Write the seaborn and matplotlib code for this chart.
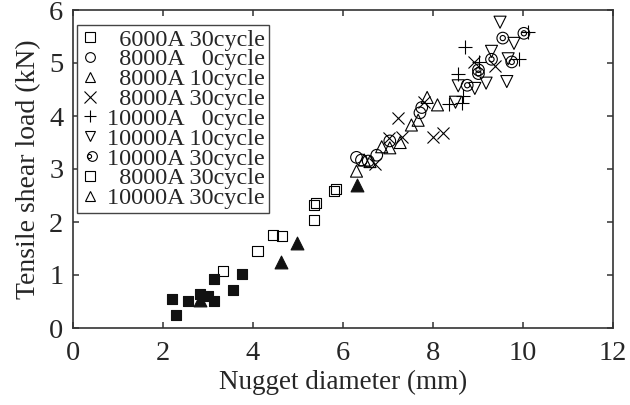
import matplotlib
matplotlib.use("Agg")
import matplotlib.pyplot as plt
import seaborn as sns
import numpy as np
from matplotlib.lines import Line2D
from matplotlib.legend_handler import HandlerTuple

# ---- data ----
sq6000_30_x = [3.34, 4.10, 4.45, 4.65, 5.36, 5.36, 5.40, 5.80, 5.84]
sq6000_30_y = [1.08, 1.45, 1.75, 1.74, 2.04, 2.32, 2.35, 2.58, 2.62]

c8000_0_x = [6.30, 6.41, 6.56, 6.75, 7.04, 7.71, 7.75]
c8000_0_y = [3.22, 3.17, 3.15, 3.26, 3.53, 4.06, 4.16]

t8000_10_x = [6.30, 6.47, 6.60, 6.86, 7.04, 7.27, 7.52, 7.67, 7.87, 8.10]
t8000_10_y = [2.96, 3.17, 3.14, 3.42, 3.40, 3.50, 3.83, 3.92, 4.35, 4.21]

x8000_30_x = [6.71, 7.02, 7.30, 7.22, 7.79, 8.01, 8.22, 8.91, 9.38]
x8000_30_y = [3.10, 3.58, 3.61, 3.97, 4.26, 3.60, 3.68, 5.02, 4.94]

p10000_0_x = [8.36, 8.64, 8.67, 8.56, 8.71, 9.03, 9.92, 10.12]
p10000_0_y = [4.22, 4.24, 4.37, 4.80, 5.30, 5.02, 5.07, 5.59]

v10000_10_x = [8.50, 8.56, 8.93, 9.18, 9.30, 9.64, 9.67, 9.80, 9.49]
v10000_10_y = [4.26, 4.57, 4.52, 4.62, 5.22, 4.65, 5.08, 5.37, 5.77]

cd10000_30_x = [8.76, 9.01, 9.01, 9.30, 9.75, 9.55, 10.02]
cd10000_30_y = [4.58, 4.87, 4.80, 5.07, 5.02, 5.47, 5.56]

fs8000_30_x = [2.19, 2.29, 2.56, 2.82, 3.01, 3.14, 3.14, 3.55, 3.75]
fs8000_30_y = [0.54, 0.24, 0.51, 0.65, 0.61, 0.51, 0.92, 0.72, 1.01]

ft10000_30_x = [2.82, 4.62, 4.98, 6.31]
ft10000_30_y = [0.52, 1.24, 1.61, 2.70]

labels = ["  6000A 30cycle", "  8000A   0cycle", "  8000A 10cycle", "  8000A 30cycle",
          "10000A   0cycle", "10000A 10cycle", "10000A 30cycle",
          "  8000A 30cycle", "10000A 30cycle"]

x_ticks = [0, 2, 4, 6, 8, 10, 12]
y_ticks = [0, 1, 2, 3, 4, 5, 6]

# ---- styling ----
sns.set_theme(style="white")
plt.rcParams["font.family"] = ["Liberation Serif", "DejaVu Serif"]

fig = plt.figure(figsize=(6.3, 4.05), dpi=100)
ax = fig.add_axes([73/630, 1-328/405, 540/630, 318/405])

K = "black"
lw = 0.8

sns.scatterplot(x=sq6000_30_x, y=sq6000_30_y, marker="s", s=52, color=K,
                facecolor="none", edgecolor=K, linewidth=lw, ax=ax, zorder=3)
sns.scatterplot(x=c8000_0_x, y=c8000_0_y, marker="o", s=70, color=K,
                facecolor="none", edgecolor=K, linewidth=lw, ax=ax, zorder=3)
sns.scatterplot(x=t8000_10_x, y=t8000_10_y, marker="^", s=75, color=K,
                facecolor="none", edgecolor=K, linewidth=lw, ax=ax, zorder=3)
sns.scatterplot(x=x8000_30_x, y=x8000_30_y, marker="x", s=75, color=K,
                linewidth=lw, ax=ax, zorder=3)
sns.scatterplot(x=p10000_0_x, y=p10000_0_y, marker="+", s=90, color=K,
                linewidth=lw, ax=ax, zorder=3)
sns.scatterplot(x=v10000_10_x, y=v10000_10_y, marker="v", s=75, color=K,
                facecolor="none", edgecolor=K, linewidth=lw, ax=ax, zorder=3)
sns.scatterplot(x=cd10000_30_x, y=cd10000_30_y, marker="o", s=70, color=K,
                facecolor="none", edgecolor=K, linewidth=lw, ax=ax, zorder=3)
sns.scatterplot(x=cd10000_30_x, y=cd10000_30_y, marker="o", s=14, color=K,
                facecolor="none", edgecolor=K, linewidth=lw, ax=ax, zorder=3)
sns.scatterplot(x=fs8000_30_x, y=fs8000_30_y, marker="s", s=60, color="#111111",
                edgecolor="#111111", linewidth=lw, ax=ax, zorder=3)
sns.scatterplot(x=ft10000_30_x, y=ft10000_30_y, marker="^", s=85, color="#111111",
                edgecolor="#111111", linewidth=lw, ax=ax, zorder=3)

ax.set_xlim(0, 12)
ax.set_ylim(0, 6)
ax.set_xticks(x_ticks)
ax.set_yticks(y_ticks)
ax.set_xticklabels([str(v) for v in x_ticks])
ax.set_yticklabels([str(v) for v in y_ticks])

ax.set_xlabel("Nugget diameter (mm)", fontsize=19.5, labelpad=3)
ax.set_ylabel("Tensile shear load (kN)", fontsize=20, labelpad=6)

for sp in ax.spines.values():
    sp.set_visible(True)
    sp.set_color("#333333")
    sp.set_linewidth(1.2)

ax.tick_params(axis="both", which="both", direction="in", length=4.5, width=1.1,
               color="#333333", top=True, right=True, bottom=True, left=True,
               labelsize=20.5)
ax.tick_params(axis="x", pad=9)
ax.tick_params(axis="y", pad=7)

# ---- legend with custom handles ----
ms = 7
hk = dict(color=K, linestyle="none", markeredgewidth=0.8)
handles = [
    Line2D([], [], marker="s", markersize=ms, markerfacecolor="none", **hk),
    Line2D([], [], marker="o", markersize=ms, markerfacecolor="none", **hk),
    Line2D([], [], marker="^", markersize=ms, markerfacecolor="none", **hk),
    Line2D([], [], marker="x", markersize=ms + 1, **hk),
    Line2D([], [], marker="+", markersize=ms + 2, **hk),
    Line2D([], [], marker="v", markersize=ms, markerfacecolor="none", **hk),
    (Line2D([], [], marker="o", markersize=ms, markerfacecolor="none", **hk),
     Line2D([], [], marker="o", markersize=3, markerfacecolor="none", **hk)),
    Line2D([], [], marker="s", markersize=ms, markerfacecolor="none", **hk),
    Line2D([], [], marker="^", markersize=ms, markerfacecolor="none", **hk),
]
leg = ax.legend(handles, labels, loc="upper left",
                bbox_to_anchor=(4/540, 1-15/318), borderaxespad=0,
                fontsize=17.5, frameon=True, fancybox=False, framealpha=1,
                edgecolor="#444444", handlelength=0.8, handletextpad=0.3,
                labelspacing=-0.09, borderpad=0.15,
                handler_map={tuple: HandlerTuple(ndivide=None, pad=-1.0)})
leg.get_frame().set_linewidth(1.0)

fig.savefig("out.png", dpi=100)
